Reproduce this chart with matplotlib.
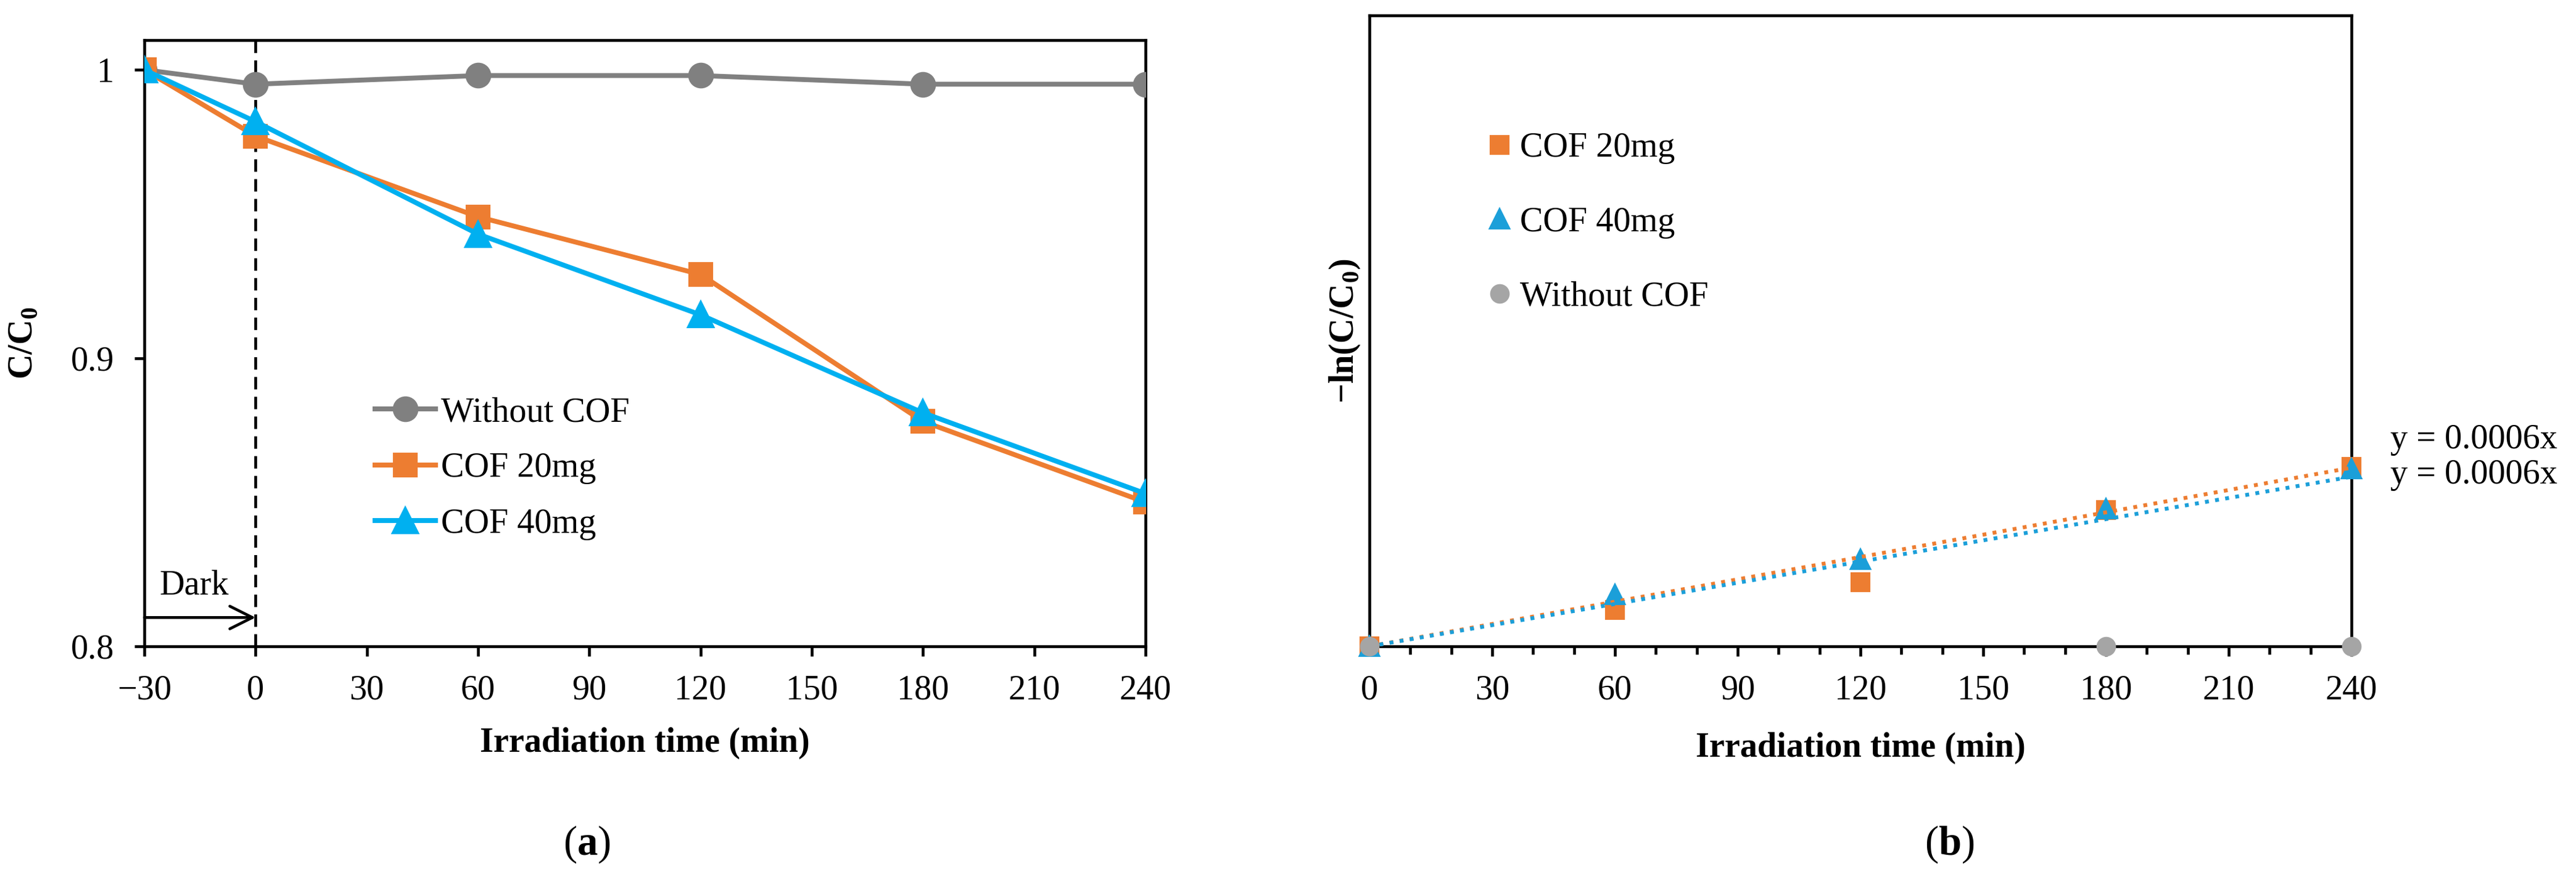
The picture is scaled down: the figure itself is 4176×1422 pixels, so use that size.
import numpy as np
import matplotlib
matplotlib.use('Agg')
import matplotlib.pyplot as plt
from matplotlib.ticker import MultipleLocator, FixedLocator, FuncFormatter

plt.rcParams['font.family'] = ['Liberation Serif', 'DejaVu Serif']
plt.rcParams['mathtext.fontset'] = 'custom'
plt.rcParams['mathtext.rm'] = 'Liberation Serif'
plt.rcParams['mathtext.bf'] = 'Liberation Serif:bold'
plt.rcParams['axes.unicode_minus'] = True

# (a) C/C0 vs time
time_a = [-30, 0, 60, 120, 180, 240]
cc0_none = [1.000, 0.995, 0.998, 0.998, 0.995, 0.995]
cc0_20mg = [1.000, 0.977, 0.949, 0.929, 0.878, 0.850]
cc0_40mg = [1.000, 0.982, 0.943, 0.915, 0.881, 0.853]

# (b) -ln(C/C0) vs time
time_b = [0, 60, 120, 180, 240]
lnc_20mg = [0.0, 0.029, 0.051, 0.108, 0.142]
lnc_40mg = [0.0, 0.041, 0.069, 0.109, 0.141]
lnc_none = [0.0, np.nan, np.nan, 0.0, 0.0]   # points at 60/120 fall below the axis

# linear trendlines (through origin) as drawn in (b)
trend_x = [0, 240]
slope_20mg = 0.00059
slope_40mg = 0.00056
eq_labels = ['y = 0.0006x', 'y = 0.0006x']

grey = '#808080'
orange = '#ED7D31'
cyan = '#00B0F0'
blue_b = '#1B9FD9'
grey_b = '#A5A5A5'

fs = 13.5
W, H = 4176, 1422
fig = plt.figure(figsize=(W / 300, H / 300), dpi=300)

ax1 = fig.add_axes([234 / W, 1 - 1048 / H, (1857 - 234) / W, (1048 - 65) / H])
ax2 = fig.add_axes([2220 / W, 1 - 1048 / H, (3812 - 2220) / W, (1048 - 25) / H])

for ax in (ax1, ax2):
    for s in ax.spines.values():
        s.set_linewidth(1.1)
    ax.tick_params(direction='out', width=1.1, length=3.8, labelsize=fs, pad=7)

# ---- panel (a)
ax1.plot(time_a, cc0_none, '-o', color=grey, lw=1.9, ms=9, label='Without COF', zorder=3)
ax1.plot(time_a, cc0_20mg, '-s', color=orange, lw=1.9, ms=8.5, label='COF 20mg', zorder=3)
ax1.plot(time_a, cc0_40mg, '-^', color=cyan, lw=1.9, ms=9.5, label='COF 40mg', zorder=4)
ax1.set_xlim(-30, 240)
ax1.set_ylim(0.8, 1.0103)
ax1.xaxis.set_major_locator(MultipleLocator(30))
ax1.yaxis.set_major_locator(FixedLocator([0.8, 0.9, 1.0]))
ax1.yaxis.set_major_formatter(FuncFormatter(lambda v, p: f'{v:g}'))
ax1.tick_params(axis='y', pad=8)
ax1.axvline(0, color='black', lw=1.1, ls=(0, (4.4, 2.6)), zorder=2)
ax1.annotate('', xy=(0, 0.81), xytext=(-30, 0.81),
             arrowprops=dict(arrowstyle='->', lw=1.1, color='black',
                             mutation_scale=22, shrinkA=0, shrinkB=0))
ax1.text(-26, 0.821, 'Dark', fontsize=fs, va='center', ha='left')
ax1.set_xlabel('Irradiation time (min)', fontsize=fs, fontweight='bold', labelpad=8)
ax1.set_ylabel(r'C/C$_\mathbf{0}$', fontsize=fs, fontweight='bold', labelpad=12)
ax1.legend(loc='upper left', bbox_to_anchor=(0.2304, 0.412), frameon=False,
           fontsize=fs, handlelength=1.75, handletextpad=0.15, labelspacing=0.68,
           borderpad=0, borderaxespad=0)

# ---- panel (b)
ax2.plot(time_b, lnc_20mg, 's', color=orange, ms=6.6, label='COF 20mg', zorder=3, clip_on=False)
ax2.plot(time_b, lnc_40mg, '^', color=blue_b, ms=7.2, label='COF 40mg', zorder=3, clip_on=False)
ax2.plot(time_b, lnc_none, 'o', color=grey_b, ms=6.6, label='Without COF', zorder=5, clip_on=False)
ax2.plot(trend_x, [slope_20mg * x for x in trend_x], ':', color=orange, lw=1.5, zorder=4)
ax2.plot(trend_x, [slope_40mg * x for x in trend_x], ':', color=blue_b, lw=1.5, zorder=4)
ax2.set_xlim(0, 240)
ax2.set_ylim(0, 0.5)
ax2.xaxis.set_major_locator(MultipleLocator(30))
ax2.xaxis.set_minor_locator(MultipleLocator(10))
ax2.tick_params(axis='x', which='minor', direction='out', width=1.1, length=3.2)
ax2.tick_params(axis='y', left=False, labelleft=False)
ax2.set_xlabel('Irradiation time (min)', fontsize=fs, fontweight='bold', labelpad=10)
ax2.set_ylabel('\u2212ln(C/C$_\\mathbf{0}$)', fontsize=fs, fontweight='bold', labelpad=3)
ax2.legend(loc='upper left', bbox_to_anchor=(0.12, 0.815), frameon=False,
           fontsize=fs, handlelength=0.7, handletextpad=0.25, labelspacing=1.22,
           borderpad=0, borderaxespad=0)
ax2.text(3875 / W, 1 - 713 / H, eq_labels[0], transform=fig.transFigure,
         fontsize=fs, va='center', ha='left')
ax2.text(3875 / W, 1 - 770 / H, eq_labels[1], transform=fig.transFigure,
         fontsize=fs, va='center', ha='left')

# panel captions
fig.text(951 / W, 1 - 1369 / H, r'($\mathbf{a}$)', fontsize=16, ha='center', va='center')
fig.text(3160 / W, 1 - 1369 / H, r'($\mathbf{b}$)', fontsize=16, ha='center', va='center')

fig.savefig('out.png', dpi=300, facecolor='white')
